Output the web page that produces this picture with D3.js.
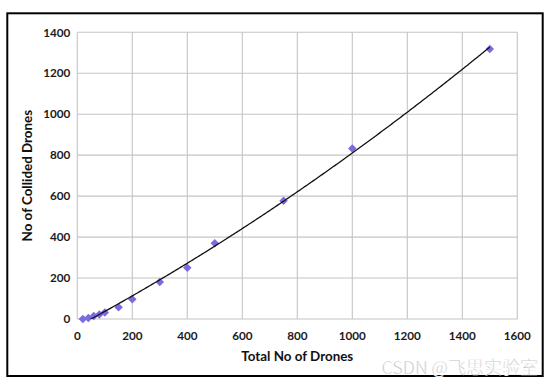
<!DOCTYPE html>
<html>
<head>
<meta charset="utf-8">
<script src="https://cdn.jsdelivr.net/npm/d3@7"></script>
<style>
  body { margin: 0; background: #fff; }
  svg { display: block; }
  .tick-label { font-family: Lato, "Open Sans", sans-serif; font-weight: 700; font-size: 11.7px; fill: #1a1a1a; }
  .axis-title { font-family: Lato, "Open Sans", sans-serif; font-weight: 700; font-size: 13.4px; fill: #111; }
</style>
</head>
<body>
<div id="chart"></div>
<script>
// drone counts vs collided drones
const totalDrones = [20, 40, 60, 80, 100, 150, 200, 300, 400, 500, 750, 1000, 1500];
const collidedDrones = [0, 5, 15, 22, 32, 57, 97, 181, 250, 370, 578, 833, 1318];
const xTicks = [0, 200, 400, 600, 800, 1000, 1200, 1400, 1600];
const yTicks = [0, 200, 400, 600, 800, 1000, 1200, 1400];

const W = 554, H = 388;
const plot = { left: 77.3, right: 517.3, top: 32.3, bottom: 319 };

const svg = d3.select("#chart").append("svg").attr("width", W).attr("height", H);

const x = d3.scaleLinear().domain([0, 1600]).range([plot.left, plot.right]);
const y = d3.scaleLinear().domain([0, 1400]).range([plot.bottom, plot.top]);

// grid
const grid = svg.append("g").attr("stroke", "#c4c4c4").attr("stroke-width", 1.1);
grid.selectAll(".vx").data(xTicks).enter().append("line")
  .attr("x1", (d) => x(d)).attr("x2", (d) => x(d))
  .attr("y1", plot.top).attr("y2", plot.bottom);
grid.selectAll(".hy").data(yTicks).enter().append("line")
  .attr("x1", plot.left).attr("x2", plot.right)
  .attr("y1", (d) => y(d)).attr("y2", (d) => y(d));

// tick labels
svg.append("g").selectAll("text").data(xTicks).enter().append("text")
  .attr("class", "tick-label")
  .attr("x", (d) => x(d)).attr("y", plot.bottom + 21)
  .attr("text-anchor", "middle")
  .text((d) => d);
svg.append("g").selectAll("text").data(yTicks).enter().append("text")
  .attr("class", "tick-label")
  .attr("x", plot.left - 7).attr("y", (d) => y(d) + 4.2)
  .attr("text-anchor", "end")
  .text((d) => d);

// axis titles
svg.append("text").attr("class", "axis-title")
  .attr("x", (plot.left + plot.right) / 2).attr("y", plot.bottom + 41.5)
  .attr("text-anchor", "middle").text("Total No of Drones");
svg.append("text").attr("class", "axis-title")
  .attr("transform", `translate(31.5,${(plot.top + plot.bottom) / 2}) rotate(-90)`)
  .attr("text-anchor", "middle").text("No of Collided Drones");

// quadratic least-squares trendline, like the spreadsheet one
function quadFit(xs, ys) {
  const s = [0, 0, 0, 0, 0], t = [0, 0, 0];
  xs.forEach((xv, i) => {
    for (let k = 0; k < 5; k++) s[k] += Math.pow(xv, k);
    for (let k = 0; k < 3; k++) t[k] += ys[i] * Math.pow(xv, k);
  });
  const m = [[s[0], s[1], s[2], t[0]], [s[1], s[2], s[3], t[1]], [s[2], s[3], s[4], t[2]]];
  for (let i = 0; i < 3; i++) {
    for (let j = i + 1; j < 3; j++) {
      const f = m[j][i] / m[i][i];
      for (let k = i; k < 4; k++) m[j][k] -= f * m[i][k];
    }
  }
  const c = [0, 0, 0];
  for (let i = 2; i >= 0; i--) {
    let v = m[i][3];
    for (let k = i + 1; k < 3; k++) v -= m[i][k] * c[k];
    c[i] = v / m[i][i];
  }
  return (xv) => c[0] + c[1] * xv + c[2] * xv * xv;
}
const fit = quadFit(totalDrones, collidedDrones);
const trendXs = d3.range(totalDrones[0], totalDrones[totalDrones.length - 1] + 1, 5);

svg.append("clipPath").attr("id", "plotclip").append("rect")
  .attr("x", plot.left).attr("y", plot.top)
  .attr("width", plot.right - plot.left).attr("height", plot.bottom - plot.top);

// markers
svg.append("g").selectAll("path").data(totalDrones).enter().append("path")
  .attr("d", d3.symbol().type(d3.symbolSquare).size(36))
  .attr("transform", (d, i) => `translate(${x(d)},${y(collidedDrones[i])}) rotate(45)`)
  .attr("fill", "#7b6be0");

svg.append("path")
  .attr("clip-path", "url(#plotclip)")
  .attr("fill", "none").attr("stroke", "#111").attr("stroke-width", 1.3)
  .attr("d", d3.line().x((d) => x(d)).y((d) => y(fit(d)))(trendXs));

// outer frame
svg.append("rect").attr("x", 7.3).attr("y", 13.3).attr("width", 535.4).attr("height", 362.7)
  .attr("fill", "none").attr("stroke", "#000").attr("stroke-width", 2);

// watermark
svg.append("text")
  .attr("x", 538).attr("y", 374)
  .attr("text-anchor", "end")
  .attr("font-family", "'Noto Sans CJK SC', 'DejaVu Sans', sans-serif")
  .attr("font-size", 18).attr("font-weight", 300)
  .attr("fill", "#a8a8a8").attr("stroke", "#fff").attr("stroke-width", 0.4)
  .text("CSDN @飞思实验室");
</script>
</body>
</html>
